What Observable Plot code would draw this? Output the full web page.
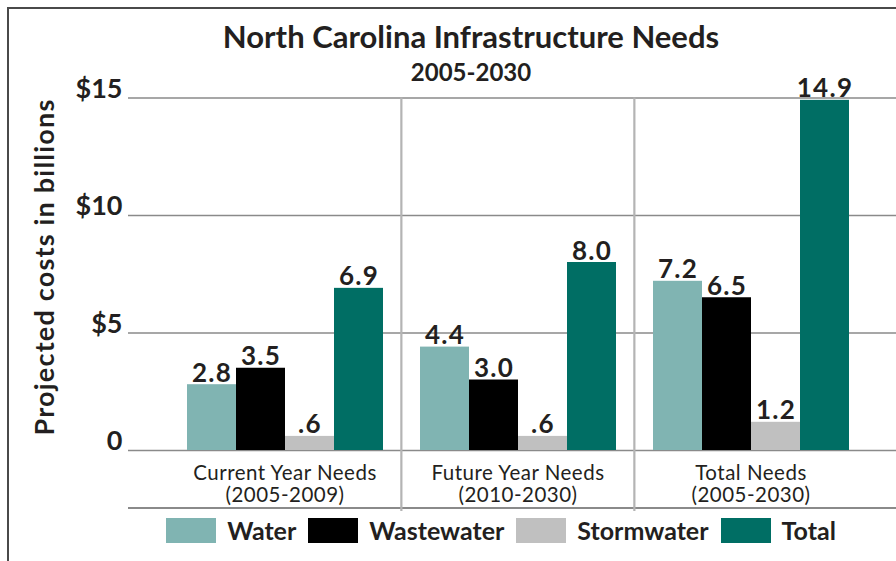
<!DOCTYPE html>
<html>
<head>
<meta charset="utf-8">
<script src="https://cdn.jsdelivr.net/npm/d3@7"></script>
<script src="https://cdn.jsdelivr.net/npm/@observablehq/plot@0.6"></script>
<style>
  html, body { margin: 0; padding: 0; background: #fff; }
  body { width: 896px; height: 561px; position: relative; overflow: hidden; font-family: Lato, "Open Sans", sans-serif; color: #231f20; }
  #frame { position: absolute; left: 7px; top: 7px; width: 900px; height: 600px; border-left: 2px solid #4a4a4a; border-top: 2px solid #4a4a4a; box-sizing: border-box; }
  #title { position: absolute; left: 0; width: 942px; top: 18px; text-align: center; font-size: 31px; font-weight: 700; line-height: 36px; }
  #subtitle { position: absolute; left: 0; width: 942px; top: 58px; text-align: center; font-size: 24px; font-weight: 700; line-height: 28px; z-index: 2; }
  #chart { position: absolute; left: 0; top: 60px; z-index: 1; }
  #chart g[aria-label="text"] text { letter-spacing: 1.3px; }
  #chart g[aria-label="fx-axis tick label"] text { letter-spacing: 0.5px; }
  #ylabel { position: absolute; left: 43px; top: 267px; transform: translate(-50%, -50%) rotate(-90deg); white-space: nowrap; font-size: 27px; letter-spacing: 1.2px; font-weight: 700; z-index: 2; }
  #baseline { position: absolute; left: 128px; width: 768px; top: 507px; border-top: 2px solid #8a8a8a; }
  #legend { position: absolute; left: 2px; width: 998px; top: 515px; display: flex; justify-content: center; align-items: center; }
  .item { display: flex; align-items: center; margin: 0 6px; }
  .sw { width: 50px; height: 25px; margin-right: 11px; }
  .lab { font-size: 25px; font-weight: 700; line-height: 30px; }
</style>
</head>
<body>
<div id="frame"></div>
<div id="title">North Carolina Infrastructure Needs</div>
<div id="subtitle">2005-2030</div>
<div id="chart"></div>
<div id="ylabel">Projected costs in billions</div>
<div id="baseline"></div>
<div id="legend"></div>
<script>
// ---- data ----
const categories = ["Current Year Needs", "Future Year Needs", "Total Needs"];
const periods = ["(2005-2009)", "(2010-2030)", "(2005-2030)"];
const series = ["Water", "Wastewater", "Stormwater", "Total"];
const water = [2.8, 4.4, 7.2];
const wastewater = [3.5, 3.0, 6.5];
const stormwater = [0.6, 0.6, 1.2];
const total = [6.9, 8.0, 14.9];
const yTicks = [0, 5, 10, 15];
const colors = ["#80b4b2", "#000000", "#c0c0c0", "#006e64"];

const values = [water, wastewater, stormwater, total];
const rows = [];
categories.forEach((c, i) => series.forEach((s, j) => rows.push({cat: c, series: s, value: values[j][i]})));
const fmt = v => v.toFixed(1).replace(/^0\./, ".");
const periodOf = Object.fromEntries(categories.map((c, i) => [c, periods[i]]));
const gridRows = c => yTicks.map(t => ({cat: c, y: t}));

// ---- layout ----
const W = 896, H = 452, mL = 168, mR = 29, mT = 37.5, mB = 62;
const po = 0.35;
const facetW = (W - mL - mR) / categories.length;
const step = facetW / (series.length + 2 * po);
const sepDx = -(po * step + step / 2) - 1.5;
const gridStyle = {fx: "cat", y: "y", stroke: "#8a8a8a", strokeWidth: 1.6};
const last = categories.length - 1;

const plot = Plot.plot({
  width: W, height: H,
  marginLeft: mL, marginRight: mR, marginTop: mT, marginBottom: mB,
  style: {background: "transparent", overflow: "visible", fontFamily: "Lato, 'Open Sans', sans-serif", color: "#231f20"},
  fx: {domain: categories, padding: 0, axis: null, label: null},
  x: {domain: series, paddingInner: 0, paddingOuter: po, axis: null, label: null},
  y: {domain: [0, 15], axis: null, label: null},
  color: {domain: series, range: colors},
  marks: [
    Plot.ruleY(gridRows(categories[0]), {...gridStyle, insetLeft: -(mL - 128)}),
    Plot.ruleY(categories.slice(1, last).flatMap(gridRows), gridStyle),
    Plot.ruleY(gridRows(categories[last]), {...gridStyle, insetRight: -mR}),
    Plot.ruleX(categories.slice(1), {fx: d => d, x: () => series[0], dx: sepDx, stroke: "#b4b4b4", strokeWidth: 2.2, insetBottom: -61}),
    Plot.barY(rows, {fx: "cat", x: "series", y: "value", fill: "series"}),
    Plot.text(rows, {fx: "cat", x: "series", y: "value", text: d => fmt(d.value), lineAnchor: "bottom", dy: -3, fontSize: 26, fontWeight: 700, fill: "#231f20"}),
    Plot.axisY({ticks: yTicks, tickFormat: d => d === 0 ? "0" : "$" + d, tickSize: 0, tickPadding: 46, fontSize: 27, fontWeight: 700, dy: -9, label: null, color: "#231f20"}),
    Plot.axisFx({anchor: "bottom", tickSize: 0, tickPadding: 13, fontSize: 20.5, lineHeight: 1.1, tickFormat: d => d + "\n" + periodOf[d], label: null, color: "#231f20"})
  ]
});
document.getElementById("chart").appendChild(plot);

// legend
const legend = d3.select("#legend");
series.forEach((s, i) => {
  const it = legend.append("div").attr("class", "item");
  it.append("div").attr("class", "sw").style("background", colors[i]);
  it.append("div").attr("class", "lab").text(s);
});
</script>
</body>
</html>
